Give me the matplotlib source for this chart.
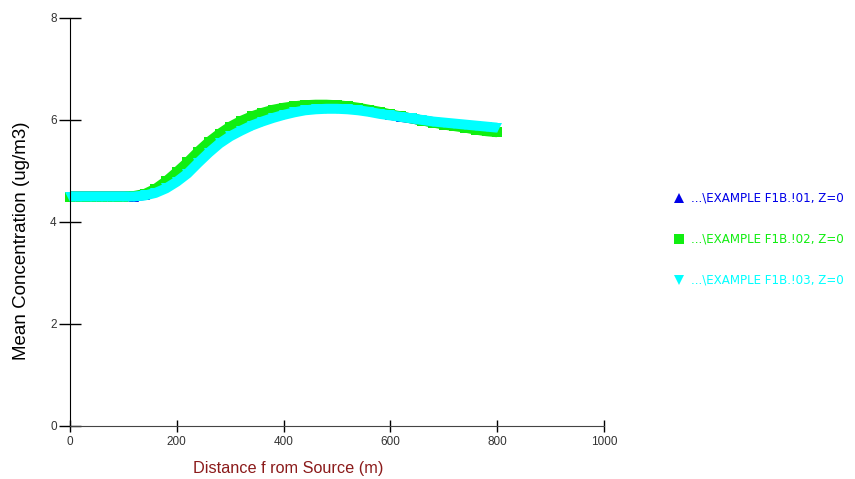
import matplotlib
matplotlib.use("Agg")
import matplotlib.pyplot as plt

plt.rcParams['font.family'] = ['Liberation Sans', 'DejaVu Sans']

distance = list(range(0, 801, 20))

conc_01 = [4.50, 4.50, 4.50, 4.50, 4.50, 4.50, 4.50, 4.53, 4.61, 4.73,
           4.88, 5.06, 5.27, 5.46, 5.63, 5.77, 5.88, 5.98, 6.05, 6.12,
           6.17, 6.21, 6.24, 6.25, 6.26, 6.25, 6.24, 6.21, 6.18, 6.14,
           6.10, 6.06, 6.03, 5.99, 5.96, 5.93, 5.90, 5.87, 5.84, 5.81, 5.79]
conc_02 = [4.50, 4.50, 4.50, 4.50, 4.50, 4.50, 4.51, 4.55, 4.65, 4.80,
           4.98, 5.17, 5.38, 5.57, 5.73, 5.87, 5.98, 6.07, 6.14, 6.20,
           6.24, 6.27, 6.29, 6.30, 6.30, 6.29, 6.27, 6.24, 6.20, 6.16,
           6.11, 6.07, 6.03, 5.99, 5.95, 5.91, 5.88, 5.85, 5.81, 5.78, 5.76]
conc_03 = [4.50, 4.50, 4.50, 4.50, 4.50, 4.50, 4.50, 4.52, 4.57, 4.66,
           4.79, 4.95, 5.16, 5.36, 5.54, 5.68, 5.79, 5.89, 5.97, 6.04,
           6.10, 6.15, 6.19, 6.21, 6.22, 6.22, 6.21, 6.19, 6.16, 6.12,
           6.09, 6.06, 6.03, 6.00, 5.97, 5.95, 5.93, 5.91, 5.89, 5.87, 5.85]

labels = ["...\\EXAMPLE F1B.!01, Z=0",
          "...\\EXAMPLE F1B.!02, Z=0",
          "...\\EXAMPLE F1B.!03, Z=0"]
colors = ["#0000E8", "#11EE11", "#00FFFF"]
markers = ["^", "s", "v"]

xticks = [0, 200, 400, 600, 800, 1000]
yticks = [0, 2, 4, 6, 8]

fig = plt.figure(figsize=(8.55, 4.79), dpi=100)
ax = fig.add_axes([70/855, 1-426/479, 534/855, 408/479])

handles = []
for ys, c, m, lab in zip([conc_01, conc_02, conc_03], colors, markers, labels):
    ax.plot(distance, ys, color=c, lw=7.2, solid_capstyle='butt', clip_on=False, zorder=2)
    h, = ax.plot(distance, ys, linestyle='none', marker=m, ms=7, mew=0,
                 color=c, clip_on=False, zorder=2, label=lab)
    handles.append(h)

ax.set_xlim(0, 1000)
ax.set_ylim(0, 8)
ax.set_xticks(xticks)
ax.set_yticks(yticks)
ax.spines['top'].set_visible(False)
ax.spines['right'].set_visible(False)
ax.spines['left'].set_color('black')
ax.spines['bottom'].set_color('#444444')
ax.tick_params(axis='y', direction='inout', length=16, width=1, pad=1.5,
               labelsize=8.5, labelcolor='#333333')
ax.tick_params(axis='x', direction='inout', length=9, width=1, pad=2.5,
               labelsize=8.5, labelcolor='#333333')

ax.set_ylabel("Mean Concentration (ug/m3)", fontsize=13.5, color='black')
ax.yaxis.set_label_coords((30 - 70) / 534, (426 - 241) / 408)
ax.set_xlabel("Distance f rom Source (m)", fontsize=11.7, color='#8B1A1A')
ax.xaxis.set_label_coords((288 - 70) / 534, (426 - 461) / 408)

leg = fig.legend(handles=handles, loc='upper left', bbox_to_anchor=(662/855, 1-181/479),
                 frameon=False, prop={'family': 'DejaVu Sans', 'size': 8.6},
                 labelcolor='linecolor', labelspacing=2.35,
                 handlelength=1.0, handletextpad=0.55, markerscale=1.1)

fig.savefig("out.png", dpi=100)
